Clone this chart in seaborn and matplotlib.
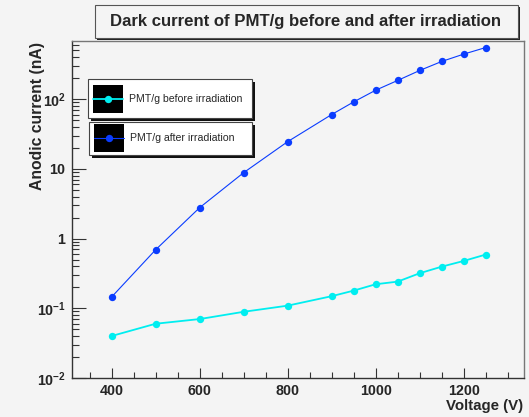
import matplotlib
matplotlib.use("Agg")
import matplotlib.pyplot as plt
from matplotlib.patches import Rectangle
from matplotlib.lines import Line2D
import matplotlib.ticker as mticker
import seaborn as sns
import pandas as pd
import numpy as np

voltage = [400, 500, 600, 700, 800, 900, 950, 1000, 1050, 1100, 1150, 1200, 1250]
before = [0.040, 0.060, 0.070, 0.089, 0.109, 0.149, 0.179, 0.221, 0.241, 0.318, 0.395, 0.477, 0.589]
after = [0.145, 0.69, 2.77, 8.8, 24.5, 60, 91, 134, 185, 257, 346, 441, 548]
series_names = ["PMT/g before irradiation", "PMT/g after irradiation"]
title = "Dark current of PMT/g before and after irradiation"
xlabel = "Voltage (V)"
ylabel = "Anodic current (nA)"
xticks = [400, 600, 800, 1000, 1200]
yticks = [0.01, 0.1, 1, 10, 100]
ytick_labels = [r"$\mathbf{10^{-2}}$", r"$\mathbf{10^{-1}}$", r"$\mathbf{1}$", r"$\mathbf{10}$", r"$\mathbf{10^{2}}$"]

df = pd.DataFrame({
    "Voltage": voltage * 2,
    "Current": before + after,
    "Series": [series_names[0]] * len(voltage) + [series_names[1]] * len(voltage),
})

sns.set_style("ticks")
plt.rcParams["font.family"] = ["Liberation Sans", "DejaVu Sans"]
plt.rcParams["mathtext.fontset"] = "custom"
plt.rcParams["mathtext.rm"] = "Liberation Sans"
plt.rcParams["mathtext.bf"] = "Liberation Sans:bold"

W, H = 529, 417
bg = "#f4f4f4"
fig = plt.figure(figsize=(W / 100, H / 100), dpi=100, facecolor=bg)

def fx(px):
    return px / W

def fy(py):
    return 1 - py / H

ax = fig.add_axes([fx(72), fy(378), (524 - 72) / W, (378 - 41) / H])
ax.set_facecolor(bg)

colors = {series_names[0]: "#00eef0", series_names[1]: "#0a3cff"}
lws = {series_names[0]: 1.3, series_names[1]: 0.8}
for name in series_names:
    sub = df[df["Series"] == name]
    sns.lineplot(data=sub, x="Voltage", y="Current", ax=ax, color=colors[name],
                 lw=lws[name], marker="o", markersize=5.3, markeredgewidth=0,
                 legend=False)

ax.set_yscale("log")
ax.set_ylim(0.01, 680)
ax.set_xlim(310, 1337)
ax.set_xticks(xticks)
ax.set_xticklabels([str(v) for v in xticks], fontweight="bold", fontsize=10.3)
ax.xaxis.set_minor_locator(mticker.MultipleLocator(50))
ax.set_yticks(yticks)
ax.set_yticklabels(ytick_labels, fontsize=10.3)
ax.yaxis.set_minor_locator(mticker.LogLocator(base=10, subs=np.arange(2, 10)))
ax.yaxis.set_minor_formatter(mticker.NullFormatter())
ax.tick_params(axis="both", which="both", direction="in", color="#333333", width=0.8)
ax.tick_params(axis="y", which="major", length=10, pad=4)
ax.tick_params(axis="y", which="minor", length=5)
ax.tick_params(axis="x", which="major", length=7, pad=4)
ax.tick_params(axis="x", which="minor", length=4)
for s in ["left", "bottom"]:
    ax.spines[s].set_color("#333333")
    ax.spines[s].set_linewidth(1.0)
for s in ["right", "top"]:
    ax.spines[s].set_color("#777777")
    ax.spines[s].set_linewidth(1.0)
ax.set_xlabel("")
ax.set_ylabel("")

fig.text(fx(523), fy(413), xlabel, ha="right", va="bottom", fontsize=10.8, fontweight="bold")
fig.text(fx(38), fy(42), ylabel, ha="center", va="top", rotation=90, fontsize=11.3, fontweight="bold")

# title box with shadow
fig.patches.append(Rectangle((fx(97), fy(40)), (518 - 95) / W, (38 - 5) / H,
                             transform=fig.transFigure, facecolor="#222222", edgecolor="none", zorder=5))
fig.patches.append(Rectangle((fx(95), fy(38)), (518 - 95) / W, (38 - 5) / H,
                             transform=fig.transFigure, facecolor=bg, edgecolor="#555555", lw=0.8, zorder=6))
fig.text(fx(306), fy(21.5), title, ha="center", va="center", fontsize=12.1, fontweight="bold", zorder=7)

# legend boxes
boxes = [(88, 79, 252, 118, 99), (89, 122, 252, 155, 138)]
for (x0, y0, x1, y1, yc), name in zip(boxes, series_names):
    fig.patches.append(Rectangle((fx(x0 + 3), fy(y1 + 3)), (x1 - x0) / W, (y1 - y0) / H,
                                 transform=fig.transFigure, facecolor="#111111", edgecolor="none", zorder=5))
    fig.patches.append(Rectangle((fx(x0), fy(y1)), (x1 - x0) / W, (y1 - y0) / H,
                                 transform=fig.transFigure, facecolor="white", edgecolor="#444444", lw=0.8, zorder=6))
    fig.patches.append(Rectangle((fx(x0 + 5), fy(yc + 14)), 30 / W, 28 / H,
                                 transform=fig.transFigure, facecolor="black", edgecolor="none", zorder=7))
    fig.lines.append(Line2D([fx(x0 + 5), fx(x0 + 35)], [fy(yc), fy(yc)], transform=fig.transFigure,
                            color=colors[name], lw=lws[name], zorder=8))
    fig.lines.append(Line2D([fx(x0 + 20)], [fy(yc)], transform=fig.transFigure, color=colors[name],
                            marker="o", markersize=5.3, markeredgewidth=0, zorder=9))
    fig.text(fx(x0 + 41), fy(yc), name, ha="left", va="center", fontsize=7.6, zorder=9)

fig.savefig("out.png", dpi=100, facecolor=bg)
